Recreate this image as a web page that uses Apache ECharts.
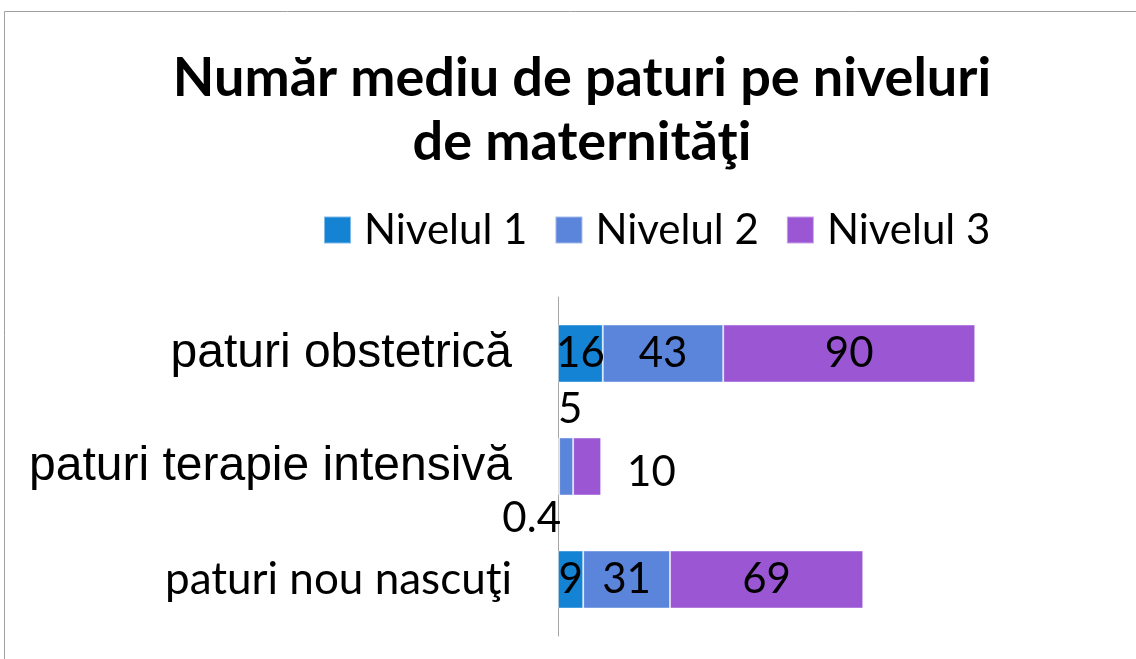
<!DOCTYPE html>
<html>
<head>
<meta charset="utf-8">
<script src="https://cdn.jsdelivr.net/npm/echarts@6/dist/echarts.min.js"></script>
<style>
  html, body { margin: 0; padding: 0; background: #fff; }
  #chart { width: 1136px; height: 659px; }
</style>
</head>
<body>
<div id="chart"></div>
<script>
// date grafic
var categories = ['paturi obstetrică', 'paturi terapie intensivă', 'paturi nou nascuţi']
var levels = ['Nivelul 1', 'Nivelul 2', 'Nivelul 3']
var nivelul1 = [16, 0.4, 9]
var nivelul2 = [43, 5, 31]
var nivelul3 = [90, 10, 69]

var colors = ['#1483D4', '#5B84DB', '#9B57D3']
var labelFont = { fontFamily: 'Lato', fontSize: 42, color: '#000' }

// etichete speciale pentru randul "terapie intensiva"
var specialLabels = [
    { position: [3, 81], align: 'right', verticalAlign: 'middle' },
    { position: [-1, -28], align: 'left', verticalAlign: 'middle' },
    { position: 'right', distance: 26, offset: [0, 6] }
]

function buildData (arr, idx) {
    return arr.map(function (v, i) {
        if (i === 1) {
            return { value: v, label: specialLabels[idx] }
        }
        return v
    })
}

var chart = echarts.init(document.getElementById('chart'))
chart.setOption({
    animation: false,
    color: colors,
    title: {
        text: 'Număr mediu de paturi pe niveluri\nde maternităţi',
        left: 577,
        top: 42,
        textAlign: 'center',
        textStyle: {
            fontFamily: 'Lato',
            fontWeight: 'bold',
            fontSize: 54,
            lineHeight: 64,
            color: '#000'
        }
    },
    legend: {
        data: levels,
        left: 318,
        top: 204,
        icon: 'rect',
        itemWidth: 27,
        itemHeight: 27,
        itemGap: 27,
        textStyle: {
            fontFamily: 'Lato',
            fontSize: 42,
            color: '#000',
            padding: [0, 0, 0, 8]
        }
    },
    grid: {
        left: 558,
        right: 130,
        top: 297,
        bottom: 23,
        containLabel: false
    },
    xAxis: {
        type: 'value',
        min: 0,
        max: 160,
        show: false
    },
    yAxis: {
        type: 'category',
        data: categories,
        inverse: true,
        axisLine: { show: true, lineStyle: { color: '#A6A6A6', width: 1 } },
        axisTick: { show: false },
        axisLabel: {
            margin: 46,
            formatter: function (val) {
                return val === 'paturi nou nascuţi' ? '{b|' + val + '}' : '{a|' + val + '}'
            },
            rich: {
                a: { fontFamily: 'Liberation Sans', fontSize: 48, color: '#000' },
                b: { fontFamily: 'Lato', fontSize: 44, color: '#000' }
            }
        }
    },
    series: [nivelul1, nivelul2, nivelul3].map(function (arr, idx) {
        return {
            name: levels[idx],
            type: 'bar',
            stack: 'total',
            barWidth: 58,
            data: buildData(arr, idx),
            itemStyle: {
                borderColor: 'rgba(255,255,255,0.45)',
                borderWidth: 1
            },
            label: Object.assign({ show: true, position: 'inside' }, labelFont)
        }
    }),
    graphic: [{
        type: 'rect',
        shape: { x: 4.5, y: 11.5, width: 1140, height: 660 },
        style: { fill: 'none', stroke: '#A0A0A0', lineWidth: 1 },
        silent: true
    }]
})
</script>
</body>
</html>
